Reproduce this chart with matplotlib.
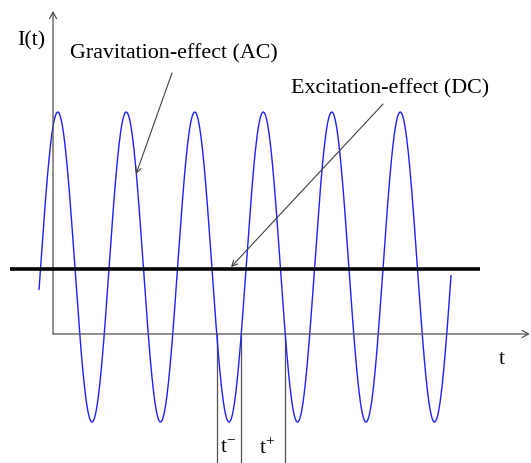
"""
Schematic of the measured signal I(t): gravitation (AC) part as a sine,
excitation (DC) part as a constant level, with t- / t+ intervals marked.
"""

import numpy as np
import matplotlib
matplotlib.use("Agg")
import matplotlib.pyplot as plt

AC_MEAN = 1.03          # centre of the oscillation
AC_AMPLITUDE = 2.385    # peak-to-centre
AC_PERIOD = 1.0
AC_PEAK_T = 0.069       # time of first maximum
AC_T_START = -0.204
AC_T_END = 5.81

DC_LEVEL = 1.0
DC_T_RANGE = [-0.628, 6.23]

T_MARKS = [2.39, 2.75, 3.39]          # zero crossings bounding t- and t+
T_LABELS = ["$\\mathrm{t}^{-}$", "$\\mathrm{t}^{+}$"]
T_LABEL_POS = [2.56, 3.12]

# ── Style ─────────────────────────────────────────────────────────────────────
CLR_AC = "#2020ff"
CLR_DC = "#000000"
CLR_AXIS = "#505050"
CLR_NOTE = "#404040"
FONT = "Liberation Serif"
FS = 15.8

plt.rcParams["font.family"] = FONT
plt.rcParams["mathtext.fontset"] = "custom"
plt.rcParams["mathtext.rm"] = FONT

fig = plt.figure(figsize=(5.31, 4.64), dpi=100, facecolor="white")
ax = fig.add_axes([0, 0, 1, 1])
ax.set_xlim(-0.774, 6.978)
ax.set_ylim(-1.985, 5.154)
ax.axis("off")

# ── Axes arrows ───────────────────────────────────────────────────────────────
arrow = dict(arrowstyle="->,head_length=0.45,head_width=0.25",
             color=CLR_AXIS, lw=0.9, shrinkA=0, shrinkB=0)
ax.annotate("", xy=(0, 4.97), xytext=(0, 0), arrowprops=arrow)
ax.annotate("", xy=(6.96, 0), xytext=(0, 0), arrowprops=arrow)
ax.text(-0.32, 4.52, "I(t)", fontsize=FS, ha="center", va="center")
ax.text(6.55, -0.38, "t", fontsize=FS, ha="center", va="center")

# ── AC signal ─────────────────────────────────────────────────────────────────
t = np.linspace(AC_T_START, AC_T_END, 800)
i_ac = AC_MEAN + AC_AMPLITUDE * np.cos(2 * np.pi * (t - AC_PEAK_T) / AC_PERIOD)
ax.plot(t, i_ac, color=CLR_AC, lw=1.0, zorder=2)

# ── DC level ──────────────────────────────────────────────────────────────────
ax.plot(DC_T_RANGE, [DC_LEVEL, DC_LEVEL], color=CLR_DC, lw=2.6, zorder=3,
        solid_capstyle="butt")

# ── t- / t+ markers ───────────────────────────────────────────────────────────
for tm in T_MARKS:
    ax.plot([tm, tm], [0, -1.97], color=CLR_AXIS, lw=0.9, zorder=1)
for x, lab in zip(T_LABEL_POS, T_LABELS):
    ax.text(x, -1.74, lab, fontsize=FS, ha="center", va="center")

# ── Annotations ───────────────────────────────────────────────────────────────
note = dict(arrowstyle="->,head_length=0.4,head_width=0.2",
            color=CLR_NOTE, lw=0.8, shrinkA=0, shrinkB=0)
ax.annotate("", xy=(1.212, 2.46), xytext=(1.737, 4.015), arrowprops=note)
ax.text(0.248, 4.26, "Gravitation-effect (AC)", fontsize=FS,
        ha="left", va="baseline")

ax.annotate("", xy=(2.599, 1.03), xytext=(4.818, 3.538), arrowprops=note)
ax.text(3.474, 3.72, "Excitation-effect (DC)", fontsize=FS,
        ha="left", va="baseline")

fig.savefig("out.png", dpi=100, facecolor="white")
